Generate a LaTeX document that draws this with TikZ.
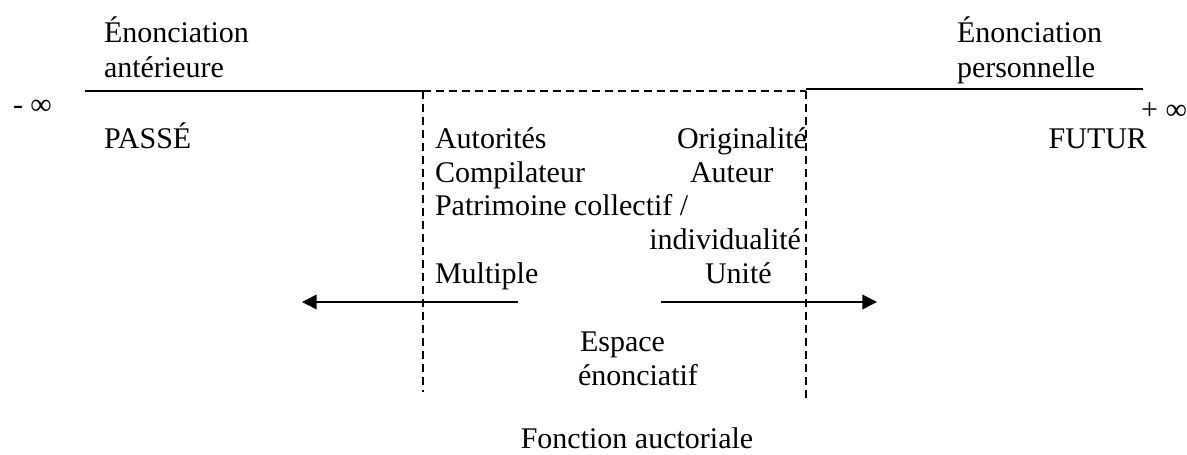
\documentclass[tikz,border=0pt]{standalone}
\usepackage{fontspec}
\setmainfont{Liberation Serif}
\usetikzlibrary{arrows.meta}
\begin{document}
\begin{tikzpicture}[x=0.75pt,y=-0.75pt,
  lbl/.style={inner sep=0pt,outer sep=0pt,font=\fontsize{22.5}{26}\selectfont},
  solidline/.style={line width=1.1pt},
  dashline/.style={line width=0.8pt,dash pattern=on 6pt off 3.75pt},
  arr/.style={line width=1.1pt,-{Triangle[length=11pt,width=11pt]}}]
\useasboundingbox (0,0) rectangle (1187,454);
% coordinates
\coordinate (L0) at (85,91);
\coordinate (L1) at (423,91);
\coordinate (R0) at (806,91);
\coordinate (R0s) at (806,89);
\coordinate (R1) at (1143,89);
\coordinate (Lb) at (423,392);
\coordinate (Rb) at (806,400);
\coordinate (al0) at (518,302);
\coordinate (al1) at (302,302);
\coordinate (ar0) at (661,302);
\coordinate (ar1) at (877,302);
% lines
\draw[solidline] (L0) -- (L1);
\draw[solidline] (R0s) -- (R1);
\draw[dashline] (L1) -- (R0);
\draw[dashline] (L1) -- (Lb);
\draw[dashline] (R0) -- (Rb);
\draw[arr] (al0) -- (al1);
\draw[arr] (ar0) -- (ar1);
% texts
\node[lbl,anchor=base west] (ea1) at (104,42) {Énonciation};
\node[lbl,anchor=base west] (ea2) at (104,77) {antérieure};
\node[lbl,anchor=base west] (ep1) at (957,42) {Énonciation};
\node[lbl,anchor=base west] (ep2) at (957,77) {personnelle};
\node[lbl,anchor=base west] (minf) at (13,114) {- ∞};
\node[lbl,anchor=base east] (pinf) at (1187,119) {+ ∞};
\node[lbl,anchor=base west] (passe) at (104,148) {PASSÉ};
\node[lbl,anchor=base east] (futur) at (1147,148) {FUTUR};
\node[lbl,anchor=base west] (aut) at (435,148) {Autorités};
\node[lbl,anchor=base west] (comp) at (435,182) {Compilateur};
\node[lbl,anchor=base west] (patr) at (435,215) {Patrimoine collectif /};
\node[lbl,anchor=base west] (mult) at (435,283) {Multiple};
\node[lbl,anchor=base east] (orig) at (807,148) {Originalité};
\node[lbl,anchor=base west] (auteur) at (690,182) {Auteur};
\node[lbl,anchor=base east] (indiv) at (801,249) {individualité};
\node[lbl,anchor=base west] (unite) at (705,283) {Unité};
\node[lbl,anchor=base west] (esp1) at (580,351) {Espace};
\node[lbl,anchor=base west] (esp2) at (578,385) {énonciatif};
\node[lbl,anchor=base] (fonc) at (637,448) {Fonction auctoriale};
\end{tikzpicture}
\end{document}
